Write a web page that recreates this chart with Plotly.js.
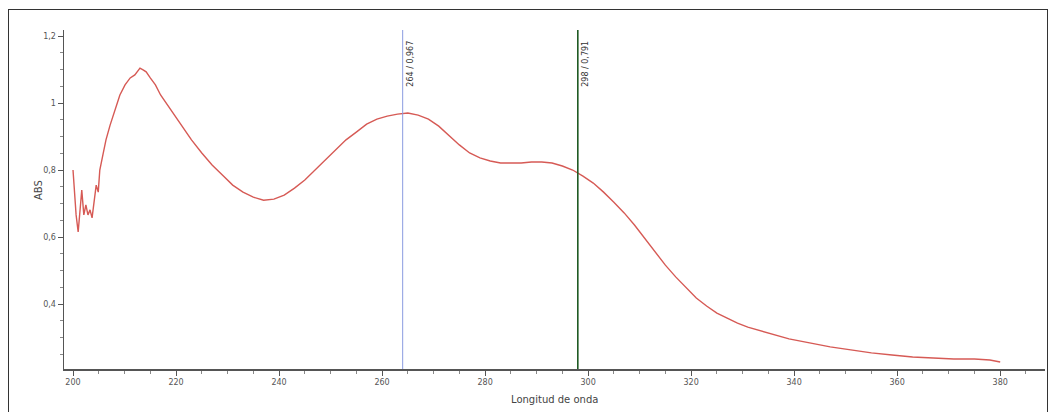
<!DOCTYPE html>
<html>
<head>
<meta charset="utf-8">
<script src="https://cdn.plot.ly/plotly-3.0.1.min.js"></script>
<style>
  html, body { margin: 0; padding: 0; background: #fff; }
  #wrap { position: relative; width: 1051px; height: 412px; overflow: hidden; }
  #frame { position: absolute; left: 8px; top: 9px; width: 1040px; height: 420px; border: 1.5px solid #333; box-sizing: border-box; pointer-events: none; }
  #chart { position: absolute; left: 0; top: 0; width: 1051px; height: 412px; }
</style>
</head>
<body>
<div id="wrap">
  <div id="chart"></div>
  <div id="frame"></div>
</div>
<script>
// Wavelength (nm)
const wavelength = [
  200.0, 200.6, 201.0, 201.4, 201.7, 202.1, 202.5, 202.9, 203.3, 203.7,
  204.1, 204.5, 204.9, 205.2, 205.8, 206.4, 207.2, 208.2, 209.1, 210.1,
  211.1, 212.0, 213.0, 213.6, 214.2, 215.0, 216, 217, 219, 221,
  223, 225, 227, 229, 231, 233, 235, 237, 239, 241,
  243, 245, 247, 249, 251, 253, 255, 257, 259, 261,
  263, 265, 267, 269, 271, 273, 275, 277, 279, 281,
  283, 285, 287, 289, 291, 293, 295, 297, 299, 301,
  303, 305, 307, 309, 311, 313, 315, 317, 319, 321,
  323, 325, 327, 329, 331, 335, 339, 343, 347, 351,
  355, 359, 363, 367, 371, 375, 378, 380
];
// Absorbance
const absorbance = [
  0.800, 0.666, 0.615, 0.696, 0.740, 0.666, 0.696, 0.666, 0.681, 0.657,
  0.710, 0.755, 0.734, 0.800, 0.845, 0.890, 0.934, 0.979, 1.024, 1.054,
  1.075, 1.084, 1.104, 1.099, 1.093, 1.075, 1.054, 1.024, 0.979, 0.934,
  0.890, 0.851, 0.815, 0.785, 0.755, 0.734, 0.719, 0.710, 0.713, 0.725,
  0.746, 0.770, 0.800, 0.830, 0.860, 0.890, 0.913, 0.937, 0.952, 0.961,
  0.967, 0.970, 0.964, 0.952, 0.931, 0.904, 0.875, 0.851, 0.836, 0.827,
  0.821, 0.821, 0.821, 0.824, 0.824, 0.821, 0.812, 0.800, 0.782, 0.761,
  0.734, 0.704, 0.672, 0.636, 0.597, 0.555, 0.516, 0.481, 0.448, 0.418,
  0.394, 0.373, 0.358, 0.343, 0.331, 0.313, 0.296, 0.284, 0.272, 0.263,
  0.254, 0.248, 0.242, 0.239, 0.236, 0.236, 0.233, 0.227
];
// Cursor markers
const markerWavelengths = [264, 298];
const markerLabels = ["264 / 0,967", "298 / 0,791"];
const markerColors = ["#8a9be0", "#1f5a23"];
const markerWidths = [1, 1.6];

const xTickVals = [200, 220, 240, 260, 280, 300, 320, 340, 360, 380];
const yTickVals = [0.4, 0.6, 0.8, 1.0, 1.2];
const yTickText = ['0,4', '0,6', '0,8', '1', '1,2'];
const xTitle = 'Longitud de onda';
const yTitle = 'ABS';

const traces = [{
  x: wavelength,
  y: absorbance,
  type: 'scatter',
  mode: 'lines',
  line: { color: '#d65a55', width: 1.4 },
  hoverinfo: 'x+y'
}];

const shapes = markerWavelengths.map((w, i) => ({
  type: 'line', xref: 'x', yref: 'paper',
  x0: w, x1: w, y0: 0, y1: 1,
  line: { color: markerColors[i], width: markerWidths[i] }
}));

const annotations = markerWavelengths.map((w, i) => ({
  x: w, xref: 'x', y: 0.975, yref: 'paper',
  text: markerLabels[i], showarrow: false, textangle: -90,
  xanchor: 'left', yanchor: 'top', xshift: 1,
  font: { family: 'DejaVu Sans', size: 8, color: '#333' }
}));
annotations.push({
  xref: 'paper', yref: 'paper', x: -0.0265, y: 0.528,
  text: yTitle, showarrow: false, textangle: -90,
  xanchor: 'center', yanchor: 'middle',
  font: { family: 'DejaVu Sans', size: 10, color: '#444' }
});
annotations.push({
  xref: 'paper', yref: 'paper', x: 0.5, y: -0.091,
  text: xTitle, showarrow: false,
  xanchor: 'center', yanchor: 'middle',
  font: { family: 'DejaVu Sans', size: 10, color: '#444' }
});

const layout = {
  width: 1051, height: 412,
  margin: { l: 64, r: 6, t: 30, b: 43 },
  paper_bgcolor: 'rgba(0,0,0,0)',
  plot_bgcolor: 'rgba(0,0,0,0)',
  separators: ', ',
  showlegend: false,
  font: { family: 'DejaVu Sans', size: 9, color: '#444' },
  xaxis: {
    range: [198.25, 388.7],
    tickvals: xTickVals,
    ticktext: xTickVals.map(String),
    ticks: 'outside', ticklen: 5, tickcolor: '#555', tickwidth: 1,
    showline: true, linecolor: '#555', linewidth: 1.5,
    showgrid: false, zeroline: false,
    minor: { dtick: 5, tick0: 200, ticks: 'outside', ticklen: 3, tickcolor: '#888', showgrid: false },
    tickfont: { family: 'DejaVu Sans', size: 8, color: '#555' }
  },
  yaxis: {
    range: [0.206, 1.218],
    tickvals: yTickVals,
    ticktext: yTickText,
    ticks: 'outside', ticklen: 5, tickcolor: '#555', tickwidth: 1,
    showline: true, linecolor: '#555', linewidth: 1.5,
    showgrid: false, zeroline: false,
    minor: { dtick: 0.05, tick0: 0.2, ticks: 'outside', ticklen: 3, tickcolor: '#888', showgrid: false },
    tickfont: { family: 'DejaVu Sans', size: 8, color: '#555' }
  },
  shapes: shapes,
  annotations: annotations
};

Plotly.newPlot('chart', traces, layout, { displayModeBar: false, staticPlot: true });
</script>
</body>
</html>
